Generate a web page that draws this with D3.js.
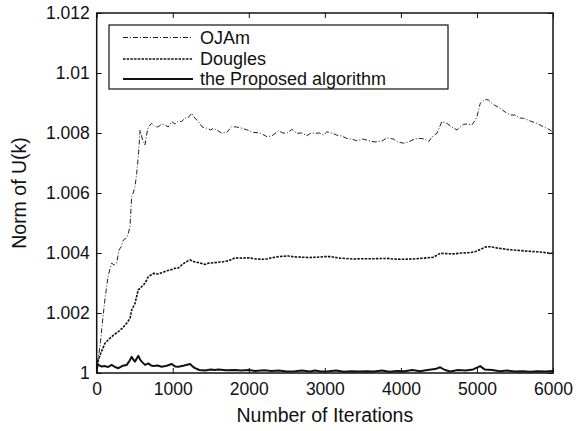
<!DOCTYPE html>
<html><head><meta charset="utf-8">
<script src="https://cdn.jsdelivr.net/npm/d3@7"></script>
<style>body{margin:0;background:#fff}svg{display:block}text{font-family:"Liberation Sans",Arial,sans-serif;fill:#111}</style>
</head><body>
<script>
const seriesNames = ["OJAm", "Dougles", "the Proposed algorithm"];
const xTicks = [0,1000,2000,3000,4000,5000,6000];
const yTicks = [1,1.002,1.004,1.006,1.008,1.01,1.012];
const yTickLabels = ["1","1.002","1.004","1.006","1.008","1.01","1.012"];

const ojamX = [0,20,43,80,110,153,197,230,263,293,320,350,390,416,438,460,480,504,526,547,570,600,635,660,680,723,770,811,855,899,940,987,1030,1074,1118,1160,1200,1250,1290,1337,1390,1447,1500,1535,1579,1640,1710,1776,1840,1908,1980,2061,2150,2237,2300,2390,2450,2500,2566,2632,2700,2763,2820,2872,2930,2982,3026,3090,3158,3220,3289,3350,3421,3500,3596,3660,3750,3816,3900,3960,4034,4100,4180,4254,4310,4363,4420,4474,4539,4605,4670,4737,4780,4824,4880,4934,4970,5000,5043,5109,5150,5197,5250,5307,5370,5438,5500,5560,5614,5700,5789,5880,5964,6000];
const ojamY = [1.0000,1.0005,1.00088,1.0018,1.0025,1.00327,1.00366,1.0036,1.00366,1.0041,1.0042,1.00443,1.0045,1.00466,1.00488,1.00588,1.0060,1.00621,1.00666,1.00721,1.0081,1.0078,1.0076,1.0080,1.00821,1.00832,1.0082,1.00821,1.0083,1.00827,1.0082,1.00838,1.0083,1.0084,1.00838,1.0085,1.0085,1.00866,1.0085,1.00838,1.0082,1.00816,1.0081,1.00816,1.0081,1.0080,1.00802,1.00821,1.0082,1.00816,1.0081,1.00802,1.0080,1.00788,1.0079,1.00807,1.0080,1.00799,1.00812,1.00799,1.0080,1.00791,1.0080,1.00799,1.0080,1.00793,1.00804,1.0080,1.00793,1.0079,1.00782,1.0078,1.00774,1.0078,1.00773,1.0077,1.00773,1.00784,1.0078,1.0077,1.00766,1.0077,1.0078,1.00782,1.0078,1.00771,1.0079,1.00799,1.00838,1.00832,1.0082,1.0081,1.0082,1.00829,1.0083,1.00827,1.0084,1.00854,1.00899,1.00912,1.0091,1.00899,1.0089,1.00882,1.0087,1.0086,1.0086,1.0085,1.00849,1.0084,1.00832,1.0082,1.0081,1.0080];

const douglesX = [0,21,60,109,150,197,240,285,340,394,438,460,480,504,530,547,592,635,679,745,800,855,910,964,1030,1074,1118,1170,1228,1290,1337,1425,1468,1557,1640,1732,1820,1900,1995,2100,2214,2300,2390,2521,2600,2697,2800,2900,3004,3070,3200,3377,3500,3650,3816,3900,4034,4150,4254,4350,4430,4517,4600,4693,4800,4912,4980,5043,5110,5175,5280,5395,5480,5570,5680,5789,5880,5964,6000];
const douglesY = [1.0000,1.00043,1.0007,1.00099,1.0011,1.00121,1.0013,1.00138,1.0015,1.00166,1.00182,1.0021,1.0022,1.00232,1.0026,1.00277,1.00288,1.00299,1.00321,1.00332,1.0033,1.00334,1.0034,1.00343,1.00349,1.0035,1.0036,1.0037,1.00377,1.0037,1.00368,1.00362,1.00366,1.00368,1.0037,1.00374,1.00384,1.00383,1.00384,1.0038,1.00379,1.00384,1.00388,1.0039,1.00387,1.00386,1.00385,1.00386,1.00388,1.00388,1.00383,1.0038,1.00381,1.00381,1.00382,1.0038,1.00379,1.0038,1.00382,1.00384,1.00386,1.00399,1.00398,1.00397,1.004,1.00401,1.00405,1.00412,1.0042,1.00421,1.00416,1.00412,1.0041,1.00408,1.00406,1.00404,1.00402,1.00399,1.004];

const proposedX = [0,21,60,110,150,197,240,285,340,395,430,460,480,504,530,548,570,592,635,680,710,745,800,855,920,987,1030,1074,1150,1228,1260,1293,1350,1425,1500,1550,1600,1700,1820,1900,2000,2083,2200,2300,2390,2500,2610,2700,2800,2872,2950,3050,3150,3250,3350,3450,3550,3650,3750,3850,3950,4050,4150,4250,4350,4450,4517,4580,4650,4750,4850,4950,5043,5100,5200,5300,5400,5500,5600,5700,5800,5900,6000];
const proposedY = [1.0002,1.00027,1.00022,1.00023,1.0002,1.00027,1.0002,1.00016,1.00024,1.00027,1.0004,1.00054,1.00045,1.00038,1.0005,1.00057,1.00045,1.00038,1.00027,1.00032,1.00026,1.00023,1.00025,1.00021,1.00024,1.0003,1.00022,1.00021,1.00025,1.0003,1.00022,1.00016,1.0001,1.00008,1.00012,1.0001,1.00012,1.00009,1.0001,1.00008,1.0001,1.00007,1.00009,1.00007,1.00008,1.00005,1.00006,1.00008,1.00005,1.00008,1.00005,1.00006,1.00008,1.00004,1.00006,1.00005,1.00006,1.00005,1.00008,1.00004,1.00007,1.00006,1.0001,1.00006,1.0001,1.00013,1.00019,1.0001,1.00005,1.0001,1.00008,1.00012,1.00023,1.00012,1.0001,1.00006,1.00008,1.00005,1.00006,1.00004,1.00006,1.00005,1.00007];

const W = 580, H = 431;
const m = {left: 96.7, right: 553, top: 13, bottom: 373};
const svg = d3.select("body").append("svg").attr("width", W).attr("height", H);
const x = d3.scaleLinear().domain([0, 6000]).range([m.left, m.right]);
const y = d3.scaleLinear().domain([1, 1.012]).range([m.bottom, m.top]);

svg.append("clipPath").attr("id","c").append("rect")
  .attr("x", m.left).attr("y", m.top).attr("width", m.right-m.left).attr("height", m.bottom-m.top);

const styles = [
  {stroke:"#222", width:1, dash:"5,2,1,2"},
  {stroke:"#111", width:1.6, dash:"2.5,1.2"},
  {stroke:"#111", width:2, dash:null}
];
const data = [
  ojamX.map((d,i)=>[d, ojamY[i]]),
  douglesX.map((d,i)=>[d, douglesY[i]]),
  proposedX.map((d,i)=>[d, proposedY[i]])
];
const line = d3.line().x(d=>x(d[0])).y(d=>y(d[1]));
const g = svg.append("g").attr("clip-path","url(#c)");
data.forEach((s,i)=>{
  g.append("path").attr("d", line(s)).attr("fill","none")
   .attr("stroke", styles[i].stroke).attr("stroke-width", styles[i].width)
   .attr("stroke-dasharray", styles[i].dash).attr("stroke-linejoin","round");
});

const fs = 17.5;
const ax = d3.axisBottom(x).tickValues(xTicks).tickSize(-5).tickPadding(10).tickFormat(d3.format("d"));
svg.append("g").attr("transform",`translate(0,${m.bottom})`).call(ax);
const axTop = d3.axisTop(x).tickValues(xTicks).tickSize(-5).tickFormat("");
svg.append("g").attr("transform",`translate(0,${m.top})`).call(axTop);
const ay = d3.axisLeft(y).tickValues(yTicks).tickSize(-5).tickPadding(7).tickFormat((d,i)=>yTickLabels[i]);
svg.append("g").attr("transform",`translate(${m.left},0)`).call(ay);
const ayR = d3.axisRight(y).tickValues(yTicks).tickSize(-5).tickFormat("");
svg.append("g").attr("transform",`translate(${m.right},0)`).call(ayR);
svg.selectAll(".domain").remove();
svg.selectAll(".tick line").attr("stroke","#111").attr("stroke-width",1);
svg.selectAll(".tick text").attr("font-size", fs).attr("font-family","Liberation Sans, Arial, sans-serif").attr("fill","#111");
svg.append("rect").attr("x",m.left).attr("y",m.top).attr("width",m.right-m.left).attr("height",m.bottom-m.top)
  .attr("fill","none").attr("stroke","#111").attr("stroke-width",1.5);

svg.append("text").attr("x",(m.left+m.right)/2).attr("y",422).attr("text-anchor","middle")
  .attr("font-size",19.5).text("Number of Iterations");
svg.append("text").attr("transform",`translate(26,${(m.top+m.bottom)/2}) rotate(-90)`).attr("text-anchor","middle")
  .attr("font-size",19.5).text("Norm of U(k)");

const lg = svg.append("g");
lg.append("rect").attr("x",109).attr("y",25).attr("width",339).attr("height",64)
  .attr("fill","#fff").attr("stroke","#111").attr("stroke-width",1.2);
const ly = [37.5, 59, 79];
seriesNames.forEach((n,i)=>{
  lg.append("line").attr("x1",123).attr("x2",193).attr("y1",ly[i]).attr("y2",ly[i])
    .attr("stroke",styles[i].stroke).attr("stroke-width",styles[i].width).attr("stroke-dasharray",styles[i].dash);
  lg.append("text").attr("x",200).attr("y",ly[i]+6).attr("font-size",18).text(n);
});
</script>
</body></html>
